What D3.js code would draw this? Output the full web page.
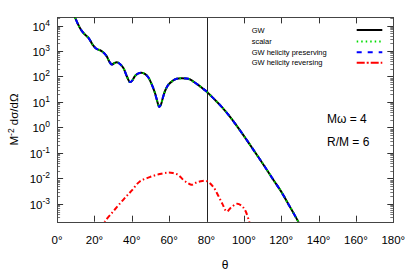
<!DOCTYPE html>
<html><head><meta charset="utf-8">
<script src="https://cdn.jsdelivr.net/npm/d3@7"></script>
<style>
body{margin:0;background:#fff;}
text{font-family:"Liberation Sans",Arial,sans-serif;fill:#000;}
</style></head>
<body><svg id="c" width="415" height="276"></svg>
<script>
// ---- data (theta in degrees, log10 of M^-2 dσ/dΩ) ----
const gwTheta = [8,10,12,13.5,15,17,19,21,23,24.5,26.5,28,29.3,30.5,32,33.5,35.5,37.5,39,40.3,41.7,43.5,45.2,47,48.8,50.5,52.4,53.8,54.7,55.6,56.8,58,59.5,62,64,66.5,69,71,73,75.5,78,80,84,88,92,96,100,104,108,112,116,120,124,128,130];
const gwLog   = [4.65,4.25,3.93,3.76,3.64,3.50,3.25,3.09,3.03,2.96,2.80,2.58,2.47,2.52,2.56,2.50,2.33,1.98,1.78,1.85,2.02,2.12,2.15,2.10,1.97,1.72,1.35,0.98,0.80,0.90,1.21,1.47,1.67,1.84,1.91,1.93,1.92,1.89,1.80,1.67,1.53,1.41,1.12,0.82,0.47,0.08,-0.33,-0.76,-1.19,-1.63,-2.08,-2.52,-3.03,-3.55,-3.82];
const revTheta = [24,25.6,30,35.4,39.9,44.3,49.6,55,59.5,62,64.8,67.6,70,72,74,76.4,80,83.5,86.3,88.5,90.8,93,96.2,98.5,100.6,102.9,104];
const revLog   = [-4.0,-3.7,-3.30,-2.84,-2.48,-2.12,-1.95,-1.83,-1.77,-1.79,-1.86,-2.06,-2.18,-2.25,-2.18,-2.12,-2.10,-2.32,-2.68,-3.0,-3.30,-3.15,-3.0,-3.06,-3.24,-3.7,-3.95];
const xTicks = [0,20,40,60,80,100,120,140,160,180];
const yExps = [-3,-2,-1,0,1,2,3,4];
const seriesNames = ["GW","scalar","GW helicity preserving","GW helicity reversing"];
const seriesColors = ["#000000","#00dd00","#0000ff","#ff0000"];
const seriesDash = [null,"1.5,3","5,6","5,2.5,1.5,2.5"];
const vLine = 80;
const notes = ["M\u03c9 = 4","R/M = 6"];

const svg = d3.select("#c");
const L=57.1, R=393.3, T=17.4, B=221.7;
const x = d3.scaleLinear().domain([0,180]).range([L,R]);
const y = d3.scaleLog().domain([Math.pow(10,-3.7),Math.pow(10,4.32)]).range([B,T]);

svg.append("defs").append("clipPath").attr("id","clip")
  .append("rect").attr("x",L).attr("y",T).attr("width",R-L).attr("height",B-T);

// minor/major y ticks (left and right)
const minor=[];
for(let e=-4;e<=4;e++) for(let k=2;k<=9;k++){const v=k*Math.pow(10,e); if(v>=y.domain()[0]&&v<=y.domain()[1]) minor.push(v);}
const tg = svg.append("g");
minor.forEach(v=>{
  const yy=Math.round(y(v))+0.5;
  tg.append("line").attr("x1",L).attr("x2",L+3).attr("y1",yy).attr("y2",yy).attr("stroke","#777");
  tg.append("line").attr("x1",R-3).attr("x2",R).attr("y1",yy).attr("y2",yy).attr("stroke","#777");
});
yExps.forEach(e=>{
  const yy=Math.round(y(Math.pow(10,e)))+0.5;
  tg.append("line").attr("x1",L).attr("x2",L+6).attr("y1",yy).attr("y2",yy).attr("stroke","#333");
  tg.append("line").attr("x1",R-6).attr("x2",R).attr("y1",yy).attr("y2",yy).attr("stroke","#333");
  const t = svg.append("text").attr("x",50).attr("y",yy+4.3).attr("text-anchor","end").style("font-size","11.5px");
  t.append("tspan").text("10");
  t.append("tspan").attr("dy",-4.5).style("font-size","8.5px").text(String(e).replace("-","-"));
});
xTicks.forEach(d=>{
  const xx=Math.round(x(d))+0.5;
  tg.append("line").attr("x1",xx).attr("x2",xx).attr("y1",B).attr("y2",B-6).attr("stroke","#333");
  tg.append("line").attr("x1",xx).attr("x2",xx).attr("y1",T).attr("y2",T+6).attr("stroke","#333");
  svg.append("text").attr("x",x(d)).attr("y",243.5).attr("text-anchor","middle").style("font-size","11.5px").text(d+"\u00b0");
});

// vertical line
svg.append("line").attr("x1",Math.round(x(vLine))+0.5).attr("x2",Math.round(x(vLine))+0.5).attr("y1",T).attr("y2",B).attr("stroke","#222");

// border
svg.append("rect").attr("x",Math.round(L)+0.5).attr("y",Math.round(T)+0.5).attr("width",Math.round(R)-Math.round(L)).attr("height",Math.round(B)-Math.round(T))
  .attr("fill","none").attr("stroke","#444");

// curves
const gw = gwTheta.map((t,i)=>[t,Math.pow(10,gwLog[i])]);
const rev = revTheta.map((t,i)=>[t,Math.pow(10,revLog[i])]);
const line = d3.line().x(d=>x(d[0])).y(d=>y(d[1])).curve(d3.curveCatmullRom.alpha(0.5));
const cg = svg.append("g").attr("clip-path","url(#clip)");
const datasets=[gw,gw,gw,rev];
datasets.forEach((ds,i)=>{
  const p=cg.append("path").attr("d",line(ds)).attr("fill","none").attr("stroke",seriesColors[i]).attr("stroke-width",2);
  if(seriesDash[i]) p.attr("stroke-dasharray",seriesDash[i]);
});

// legend
const ly=[30,41.5,52.2,62.7];
seriesNames.forEach((n,i)=>{
  svg.append("text").attr("x",251.7).attr("y",ly[i]+2.7).style("font-size","7.5px").text(n);
  const p=svg.append("line").attr("x1",356.7).attr("x2",382.3).attr("y1",ly[i]).attr("y2",ly[i]).attr("stroke",seriesColors[i]).attr("stroke-width",2);
  if(seriesDash[i]) p.attr("stroke-dasharray",i==3?"8,2,2,2":seriesDash[i]);
});

// notes
svg.append("text").attr("x",327).attr("y",123).style("font-size","12px").text(notes[0]);
svg.append("text").attr("x",327).attr("y",145.5).style("font-size","12px").text(notes[1]);

// axis titles
svg.append("text").attr("x",225.2).attr("y",269).attr("text-anchor","middle").style("font-size","12px").text("\u03b8");
const yt = svg.append("text").attr("transform","translate(18.3,119.5) rotate(-90)").attr("text-anchor","middle").style("font-size","11.5px");
yt.append("tspan").text("M");
yt.append("tspan").attr("dy",-4.5).style("font-size","8.5px").text("-2");
yt.append("tspan").attr("dy",4.5).text(" d\u03c3/d\u03a9");
</script></body></html>
